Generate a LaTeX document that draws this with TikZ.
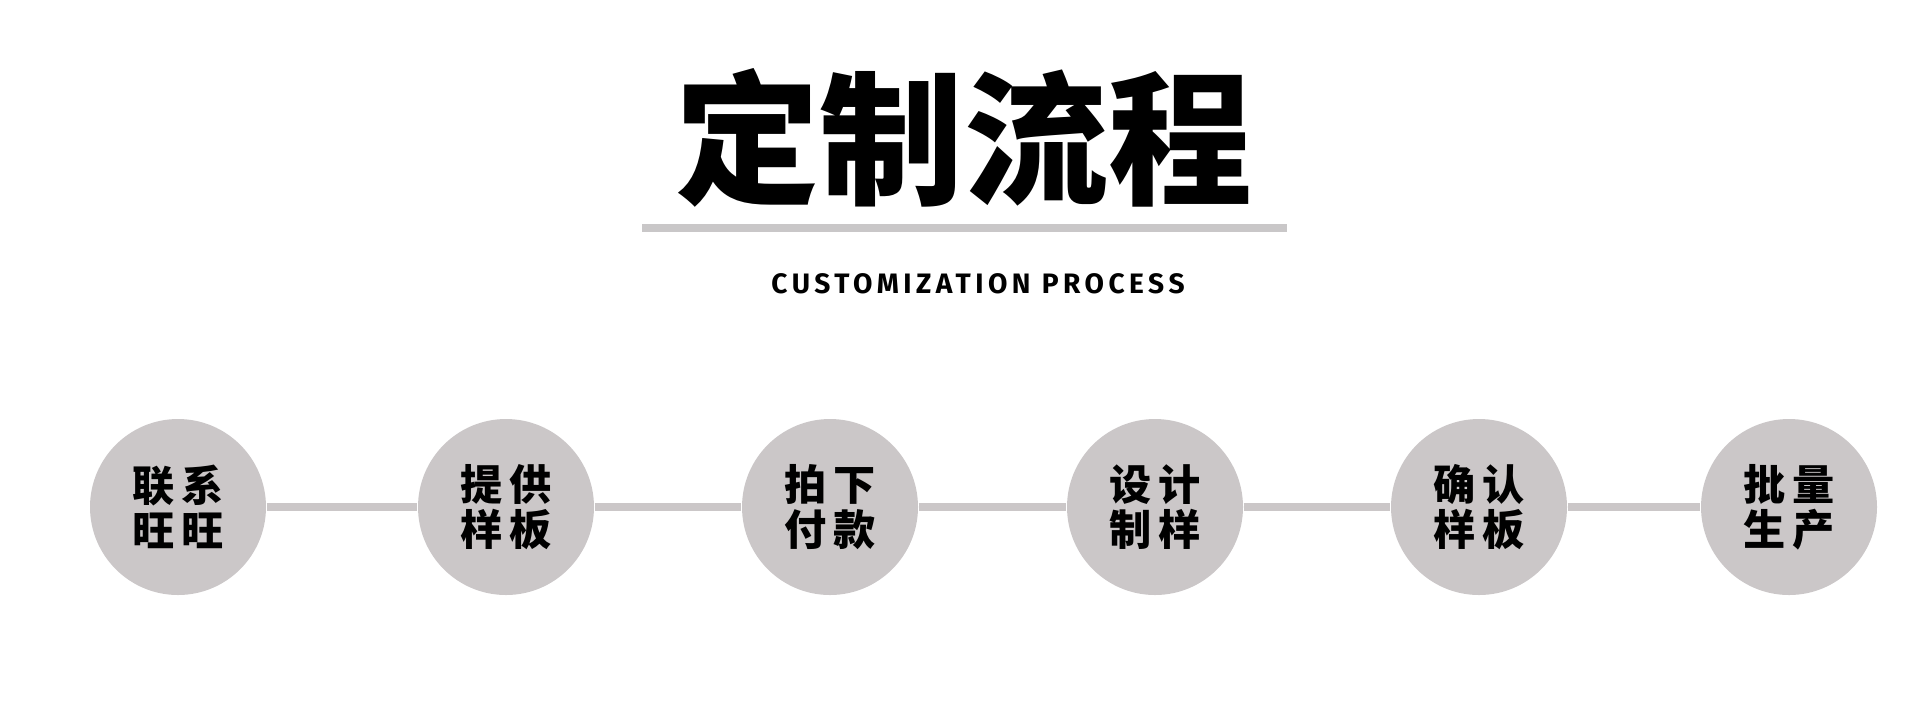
\documentclass[tikz,border=0pt]{standalone}
\usepackage{fontspec}
\newfontfamily\cjk{Noto Sans CJK SC}
\newfontfamily\subfont[LetterSpace=16]{Fira Sans}
\definecolor{stepgray}{HTML}{CBC7C8}
\definecolor{rulegray}{HTML}{C9C7C8}
\begin{document}
\begin{tikzpicture}
        % Styles
        \tikzstyle{step circle}=[circle,fill=stepgray,minimum size=1.76cm,inner sep=0pt,align=center,font=\cjk\bfseries\fontsize{12}{12.8}\selectfont]
        \tikzstyle{connector}=[draw=stepgray,line width=2.2pt]
        \tikzstyle{title text}=[font=\cjk\bfseries\fontsize{41}{46}\selectfont]
        \tikzstyle{sub text}=[font=\subfont\bfseries\fontsize{8}{9}\selectfont]
        \useasboundingbox (0,0) rectangle (19.2,7);
        %title
        \node[style=title text] (title) at (9.64,5.62) {定制流程};
        \coordinate (rule left) at (6.42,4.72);
        \coordinate (rule right) at (12.87,4.72);
        \draw[draw=rulegray,line width=2pt] (rule left) -- (rule right);
        \node[style=sub text] (subtitle) at (9.78,4.16) {CUSTOMIZATION PROCESS};
        %steps
        \foreach \i/\x/\a/\b/\c/\d in {1/1.78/联/系/旺/旺,2/5.06/提/供/样/板,3/8.30/拍/下/付/款,4/11.55/设/计/制/样,5/14.79/确/认/样/板,6/17.89/批/量/生/产}
            \node[style=step circle] (step\i) at (\x,1.93) {\a\hspace{0.7mm}\b\\\c\hspace{0.7mm}\d};
        %lines
        \foreach \p/\q in {1/2,2/3,3/4,4/5,5/6}
            \draw[style=connector] (step\p) -- (step\q);
\end{tikzpicture}
\end{document}
